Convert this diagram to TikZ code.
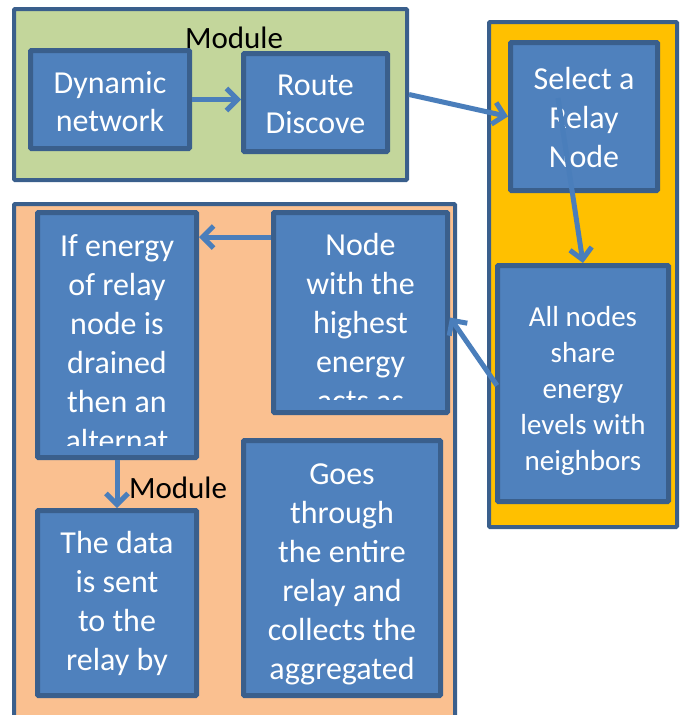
\documentclass[tikz,border=0pt]{standalone}
\usepackage{fontspec}
\setmainfont{Carlito}
\usetikzlibrary{arrows.meta,calc}
\definecolor{boxfill}{HTML}{4F81BD}
\definecolor{edge}{HTML}{3A5F8C}
\definecolor{arrowc}{HTML}{4A7EBB}
\definecolor{greenp}{HTML}{C3D69B}
\definecolor{goldp}{HTML}{FFC000}
\definecolor{peachp}{HTML}{FAC090}
\tikzset{
  panel/.style={draw=edge, line width=4pt, inner sep=0pt, rounded corners=1pt},
  box/.style={draw=edge, fill=boxfill, line width=5pt, inner sep=0pt, rounded corners=1pt},
  txt/.style={text=white, font=\fontsize{32}{39}\selectfont, align=center, inner sep=0pt, anchor=north},
  lbl/.style={text=black, font=\fontsize{31}{38}\selectfont, inner sep=0pt},
  conn/.style={draw=arrowc, line width=5pt, -{Straight Barb[length=11pt,width=22pt]}},
}
\begin{document}
\begin{tikzpicture}[x=1pt,y=-1pt]
\useasboundingbox (0,0) rectangle (683,715);
\begin{scope}
\clip (0,0) rectangle (683,715);
% panels
\node[panel, fill=greenp, minimum width=393pt, minimum height=171pt] (green) at (210.5,94.5) {};
\node[panel, fill=goldp, minimum width=188pt, minimum height=505pt] (gold) at (583,274.5) {};
\node[panel, fill=peachp, minimum width=441pt, minimum height=540pt] (peach) at (234.5,474) {};
% labels
\node[lbl, anchor=base] (mod1) at (234,48) {Module};
% boxes
\node[box, minimum width=159pt, minimum height=98pt] (dyn) at (110,99.5) {};
\node[txt, font=\fontsize{32}{38}\selectfont] (dynt) at (110,66.7) {\strut Dynamic\\network};
\node[box, minimum width=144pt, minimum height=98pt] (route) at (315.5,102.5) {};
\node[txt, font=\fontsize{32}{38}\selectfont] (routet) at (315.5,69.1) {\strut Route\\Discove};
\node[box, minimum width=147pt, minimum height=148pt] (sel) at (584,116.5) {};
\node[txt] (selt) at (584,62.2) {\strut Select a\\Relay\\Node};
\node[box, minimum width=171pt, minimum height=236pt] (all) at (583,383.5) {};
\node[txt, font=\fontsize{29}{36}\selectfont] (allt) at (583,301.5) {\strut All nodes\\share\\energy\\levels with\\neighbors};
\node[box, minimum width=159pt, minimum height=245pt] (ife) at (117,335) {};
\begin{scope}
\clip (38,213) rectangle (196,445);
\node[txt] (ifet) at (117,228.7) {\strut If energy\\of relay\\node is\\drained\\then an\\alternat};
\end{scope}
\node[box, minimum width=174pt, minimum height=200pt] (high) at (360.5,312.5) {};
\begin{scope}
\clip (274,213) rectangle (447,399);
\node[txt] (hight) at (360.5,227.5) {\strut Node\\with the\\highest\\energy\\acts as};
\end{scope}
\node[box, minimum width=197pt, minimum height=255pt] (goes) at (342,568) {};
\node[txt] (goest) at (342,456.7) {\strut Goes\\through\\the entire\\relay and\\collects the\\aggregated};
\node[box, minimum width=159pt, minimum height=185pt] (data) at (117,603) {};
\node[txt] (datat) at (117,525.7) {\strut The data\\is sent\\to the\\relay by};
\node[lbl, anchor=base] (mod2) at (178,498) {Module};
% connectors
\draw[conn] (dyn.east) -- (dyn.east -| route.west);
\draw[conn] (green.east) -- (sel.west);
\coordinate (s1) at (558,98);
\draw[conn] (s1) -- (all.north);
\coordinate (a1) at ($(all.west)+(2,2)$);
\draw[conn] (a1) -- ($(high.east)+(0,5)$);
\coordinate (h1) at ($(high.north west)+(0,27)$);
\draw[conn] (h1) -- (h1 -| ife.east);
\draw[conn] (ife.south) -- (data.north);
\end{scope}
\end{tikzpicture}
\end{document}
